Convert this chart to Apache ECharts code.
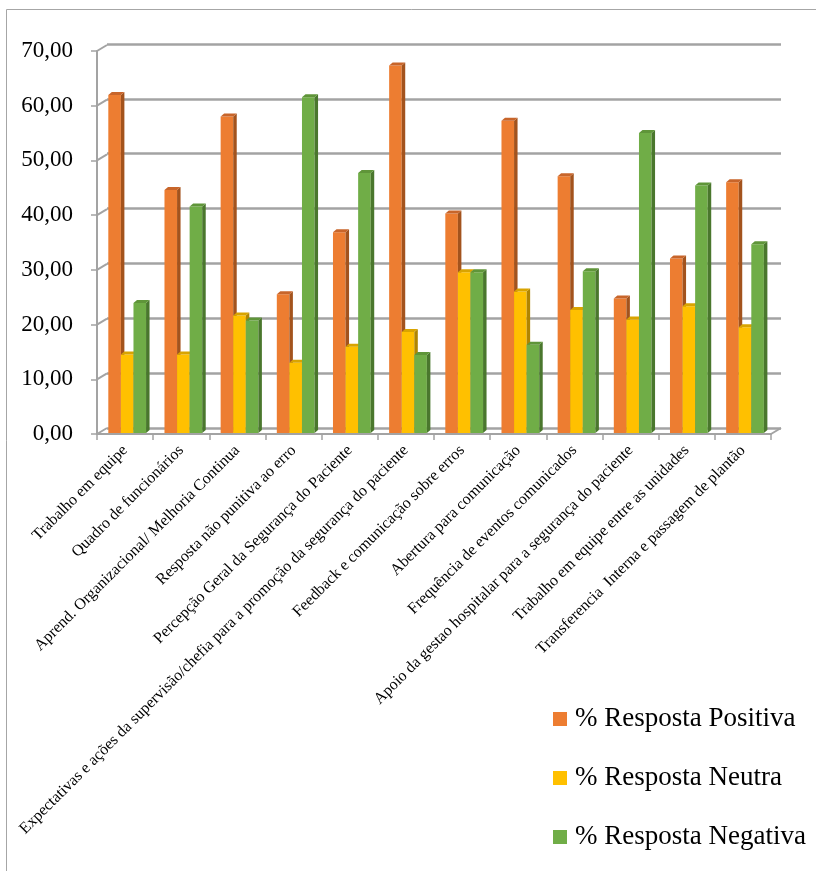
<!DOCTYPE html>
<html>
<head>
<meta charset="utf-8">
<script src="https://cdn.jsdelivr.net/npm/echarts@6/dist/echarts.min.js"></script>
<style>
  html, body { margin: 0; padding: 0; background: #fff; }
  #chart { width: 816px; height: 871px; }
</style>
</head>
<body>
<div id="chart"></div>
<script>
// Survey dimensions (x axis)
const categories = [
  'Trabalho em equipe',
  'Quadro de funcionários',
  'Aprend. Organizacional/ Melhoria Continua',
  'Resposta não punitiva ao erro',
  'Percepção Geral da Segurança do Paciente',
  'Expectativas e ações da supervisão/chefia para a promoção da segurança do paciente',
  'Feedback e comunicação sobre erros',
  'Abertura para comunicação',
  'Frequência de eventos comunicados',
  'Apoio da gestao hospitalar para a segurança do paciente',
  'Trabalho em equipe entre as unidades',
  'Transferencia  Interna e passagem de plantão'
];

// Percentages per dimension
const positiva = [61.6, 44.3, 57.7, 25.3, 36.6, 67.0, 40.0, 56.9, 46.8, 24.5, 31.8, 45.7];
const neutra   = [14.3, 14.3, 21.4, 12.8, 15.7, 18.4, 29.3, 25.8, 22.4, 20.7, 23.1, 19.3];
const negativa = [23.7, 41.3, 20.5, 61.2, 47.4, 14.2, 29.3, 16.1, 29.5, 54.7, 45.1, 34.4];

const seriesNames = ['% Resposta Positiva', '% Resposta Neutra', '% Resposta Negativa'];

// Value axis ticks
const yTicks = [0, 10, 20, 30, 40, 50, 60, 70];

const FONT = "'Liberation Serif', 'Times New Roman', serif";
const GRID_GRAY = '#a3a3a3';
const DEPTH_X = 10, DEPTH_Y = 6;      // wall depth (front axis -> back wall)
const BAR_DX = 3.5, BAR_DY = 3;       // bar depth faces
const BAR_FRACTION = 0.224;           // bar width as share of category band

const palettes = [
  { front: '#ED7D31', side: '#A3531D', top: '#C8652A' },
  { front: '#FFC000', side: '#B08500', top: '#D9A400' },
  { front: '#70AD47', side: '#4A772D', top: '#5F9539' }
];

const fmt = v => v.toFixed(2).replace('.', ',');

function barRenderer(sIdx) {
  const c = palettes[sIdx];
  return function (params, api) {
    const i = api.value(0), v = api.value(1);
    const top = api.coord([i, v]);
    const base = api.coord([i, 0]);
    const band = api.size([1, 0])[0];
    const w = band * BAR_FRACTION;
    const x0 = top[0] + (sIdx - 1.5) * w;
    const x1 = x0 + w;
    return {
      type: 'group',
      children: [
        { type: 'rect', shape: { x: x0, y: top[1], width: w, height: base[1] - top[1] },
          style: { fill: c.front } },
        { type: 'polygon', shape: { points: [[x1, top[1]], [x1 + BAR_DX, top[1] - BAR_DY],
            [x1 + BAR_DX, base[1] - BAR_DY], [x1, base[1]]] }, style: { fill: c.side } },
        { type: 'polygon', shape: { points: [[x0, top[1]], [x0 + BAR_DX, top[1] - BAR_DY],
            [x1 + BAR_DX, top[1] - BAR_DY], [x1, top[1]]] }, style: { fill: c.top } }
      ]
    };
  };
}

// Diagonal edges joining the front axis to the back wall
function wallRenderer(params, api) {
  const v = api.value(1);
  const p = api.coord([0, v]);
  const cs = params.coordSys;
  const left = cs.x;
  const children = [{
    type: 'line',
    shape: { x1: left, y1: p[1], x2: left + DEPTH_X, y2: p[1] - DEPTH_Y },
    style: { stroke: GRID_GRAY, lineWidth: 2 }
  }];
  if (v === 0) {
    const right = cs.x + cs.width;
    children.push({
      type: 'line',
      shape: { x1: right, y1: p[1], x2: right + DEPTH_X, y2: p[1] - DEPTH_Y },
      style: { stroke: GRID_GRAY, lineWidth: 2 }
    });
  }
  return { type: 'group', children };
}

const chart = echarts.init(document.getElementById('chart'), null, { renderer: 'canvas' });

const valueData = [positiva, neutra, negativa];

chart.setOption({
  animation: false,
  backgroundColor: '#fff',
  graphic: [{
    type: 'rect', z: -10, silent: true,
    shape: { x: 6.5, y: 9.5, width: 900, height: 900 },
    style: { fill: 'none', stroke: '#a6a6a6', lineWidth: 1 }
  }],
  legend: {
    orient: 'vertical',
    left: 548, top: 699,
    icon: 'rect',
    itemWidth: 14, itemHeight: 14,
    itemGap: 29,
    data: seriesNames,
    textStyle: { fontFamily: FONT, fontSize: 27, color: '#000', lineHeight: 30, padding: [0, 0, 0, 3] }
  },
  grid: [
    // back wall
    { left: 107, right: 35, top: 44, bottom: 443 },
    // front axes
    { left: 97, right: 45, top: 51, bottom: 437 },
    // bar plane
    { left: 99.1, right: 42.9, top: 49, bottom: 438 }
  ],
  xAxis: [
    { gridIndex: 0, type: 'category', data: categories, show: false },
    {
      gridIndex: 1, type: 'category', data: categories,
      axisLine: { show: true, lineStyle: { color: GRID_GRAY, width: 2 } },
      axisTick: { show: true, length: 6, lineStyle: { color: GRID_GRAY, width: 1.5 } },
      axisLabel: { interval: 0, rotate: 45, margin: 14, fontFamily: FONT, fontSize: 16, color: '#000' }
    },
    { gridIndex: 2, type: 'category', data: categories, show: false }
  ],
  yAxis: [
    {
      gridIndex: 0, type: 'value', min: 0, max: 70, interval: 10,
      axisLine: { show: false }, axisTick: { show: false }, axisLabel: { show: false },
      splitLine: { show: true, lineStyle: { color: GRID_GRAY, width: 2.5 } }
    },
    {
      gridIndex: 1, type: 'value', min: 0, max: 70, interval: 10,
      axisLine: { show: true, lineStyle: { color: GRID_GRAY, width: 2 } },
      axisTick: { show: true, length: 6, lineStyle: { color: GRID_GRAY, width: 1.5 } },
      splitLine: { show: false },
      axisLabel: { margin: 24, fontFamily: FONT, fontSize: 23, color: '#000', formatter: fmt }
    },
    {
      gridIndex: 2, type: 'value', min: 0, max: 70, interval: 10, show: false,
      splitLine: { show: false }
    }
  ],
  series: [
    {
      type: 'custom', name: 'wall', silent: true,
      xAxisIndex: 1, yAxisIndex: 1,
      renderItem: wallRenderer,
      data: yTicks.map(v => [0, v]),
      encode: { x: 0, y: 1 }
    }
  ].concat(valueData.map((arr, s) => ({
    type: 'custom',
    name: seriesNames[s],
    xAxisIndex: 2, yAxisIndex: 2,
    itemStyle: { color: palettes[s].front },
    renderItem: barRenderer(s),
    data: arr.map((v, i) => [i, v]),
    encode: { x: 0, y: 1 },
    z: 3 + s
  })))
});
</script>
</body>
</html>
